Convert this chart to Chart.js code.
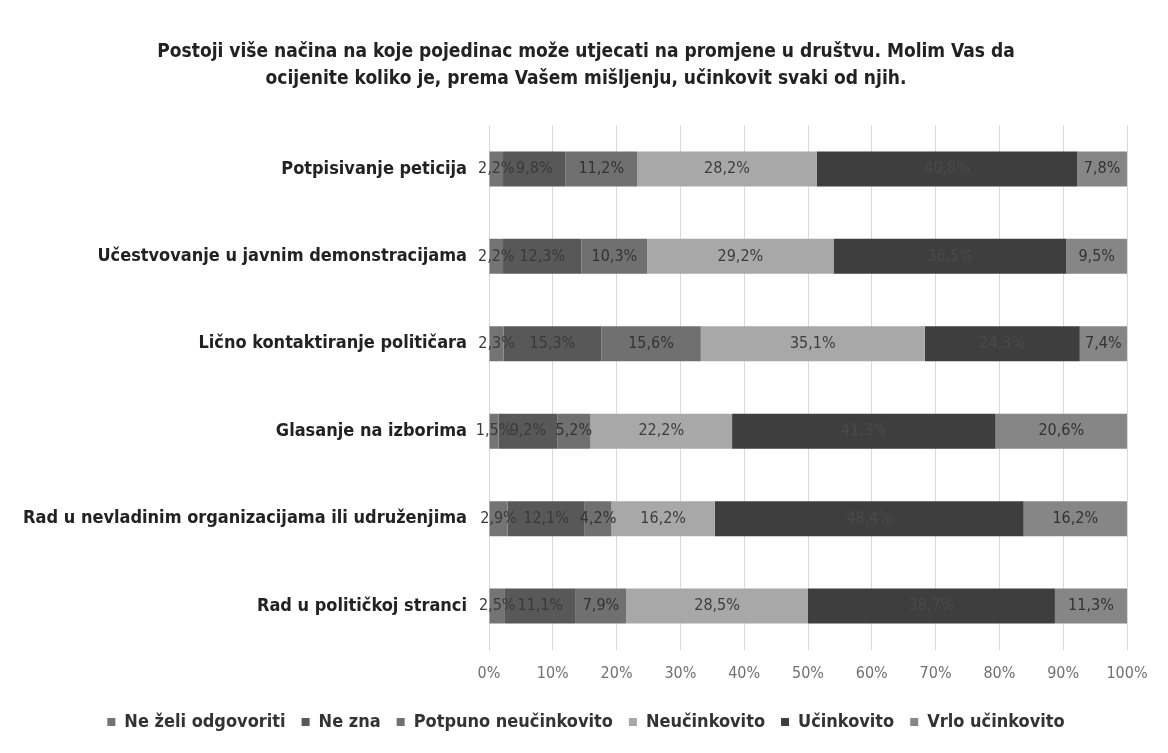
<!DOCTYPE html>
<html lang="bs">
<head>
    <meta charset="UTF-8">
    <title>Učinkovitost načina utjecaja na promjene u društvu</title>
    <style>
        body {
            margin: 0;
            background-color: #ffffff;
        }
        #wrap {
            width: 1168px;
            height: 753px;
        }
    </style>
    <script src="https://cdn.jsdelivr.net/npm/chart.js"></script>
</head>
<body>

<div id="wrap">
    <canvas id="chart" width="1168" height="753"></canvas>
</div>

<script>
    // Kategorije i vrijednosti (%), očitane sa slike
    const categories = [
        'Potpisivanje peticija',
        'Učestvovanje u javnim demonstracijama',
        'Lično kontaktiranje političara',
        'Glasanje na izborima',
        'Rad u nevladinim organizacijama ili udruženjima',
        'Rad u političkoj stranci'
    ];
    const neZeliOdgovoriti = [2.2, 2.2, 2.3, 1.5, 2.9, 2.5];
    const neZna = [9.8, 12.3, 15.3, 9.2, 12.1, 11.1];
    const potpunoNeucinkovito = [11.2, 10.3, 15.6, 5.2, 4.2, 7.9];
    const neucinkovito = [28.2, 29.2, 35.1, 22.2, 16.2, 28.5];
    const ucinkovito = [40.8, 36.5, 24.3, 41.3, 48.4, 38.7];
    const vrloUcinkovito = [7.8, 9.5, 7.4, 20.6, 16.2, 11.3];
    const xTicks = [0, 10, 20, 30, 40, 50, 60, 70, 80, 90, 100];

    const font = "'Liberation Sans Narrow', 'DejaVu Sans Condensed', 'Liberation Sans', Arial, sans-serif";

    // Oznake vrijednosti unutar segmenata (bez dodatnog plugina)
    const barLabels = {
        id: 'barLabels',
        afterDatasetsDraw(chart) {
            const ctx = chart.ctx;
            ctx.save();
            ctx.font = '16px ' + font;
            ctx.textAlign = 'center';
            ctx.textBaseline = 'middle';
            chart.data.datasets.forEach((ds, i) => {
                const meta = chart.getDatasetMeta(i);
                meta.data.forEach((bar, j) => {
                    const v = ds.data[j];
                    const txt = v.toFixed(1).replace('.', ',') + '%';
                    const cx = (bar.x + bar.base) / 2;
                    ctx.fillStyle = ds.labelColor;
                    ctx.fillText(txt, cx, bar.y);
                });
            });
            ctx.restore();
        }
    };

    // naslov i legenda centrirani kao u originalu (oko x = 586)
    const centerBoxes = {
        id: 'centerBoxes',
        afterLayout(chart) {
            [chart.titleBlock, chart.legend].forEach(box => {
                if (!box) return;
                const d = 586 - (box.left + box.right) / 2;
                box.left += d;
                box.right += d;
            });
        }
    };

    const ctx = document.getElementById('chart').getContext('2d');
    const chart = new Chart(ctx, {
        type: 'bar',
        data: {
            labels: categories,
            datasets: [
                { label: 'Ne želi odgovoriti', data: neZeliOdgovoriti, backgroundColor: '#747474', labelColor: '#3a3a3a' },
                { label: 'Ne zna', data: neZna, backgroundColor: '#585858', labelColor: '#3a3a3a' },
                { label: 'Potpuno neučinkovito', data: potpunoNeucinkovito, backgroundColor: '#707070', labelColor: '#333333' },
                { label: 'Neučinkovito', data: neucinkovito, backgroundColor: '#a8a8a8', labelColor: '#3d3d3d' },
                { label: 'Učinkovito', data: ucinkovito, backgroundColor: '#3e3e3e', labelColor: '#4a4a4a' },
                { label: 'Vrlo učinkovito', data: vrloUcinkovito, backgroundColor: '#868686', labelColor: '#333333' }
            ]
        },
        options: {
            indexAxis: 'y',
            responsive: false,
            animation: false,
            barPercentage: 0.4,
            categoryPercentage: 1,
            layout: {
                padding: { left: 10, right: 41, top: 25, bottom: 12 }
            },
            scales: {
                x: {
                    stacked: true,
                    min: 0,
                    max: 100,
                    afterBuildTicks(scale) {
                        scale.ticks = xTicks.map(v => ({ value: v }));
                    },
                    ticks: {
                        callback: v => v + '%',
                        color: '#707070',
                        font: { family: font, size: 16 },
                        padding: 14
                    },
                    grid: { color: '#d9d9d9', drawTicks: false },
                    border: { display: false }
                },
                y: {
                    stacked: true,
                    afterFit(scale) { scale.width = 479; },
                    ticks: {
                        color: '#222222',
                        font: { family: font, size: 18, weight: 'bold' },
                        padding: 14
                    },
                    grid: { display: false },
                    border: { display: false }
                }
            },
            plugins: {
                title: {
                    display: true,
                    text: [
                        'Postoji više načina na koje pojedinac može utjecati na promjene u društvu. Molim Vas da',
                        'ocijenite koliko je, prema Vašem mišljenju, učinkovit svaki od njih.'
                    ],
                    color: '#222222',
                    font: { family: font, size: 19, weight: 'bold', lineHeight: 1.4 },
                    padding: { top: 14, bottom: 33 }
                },
                legend: {
                    position: 'bottom',
                    labels: {
                        color: '#333333',
                        font: { family: font, size: 18, weight: 'bold' },
                        boxWidth: 8,
                        boxHeight: 8,
                        padding: 16
                    }
                },
                tooltip: { enabled: false }
            }
        },
        plugins: [barLabels, centerBoxes]
    });
</script>

</body>
</html>
